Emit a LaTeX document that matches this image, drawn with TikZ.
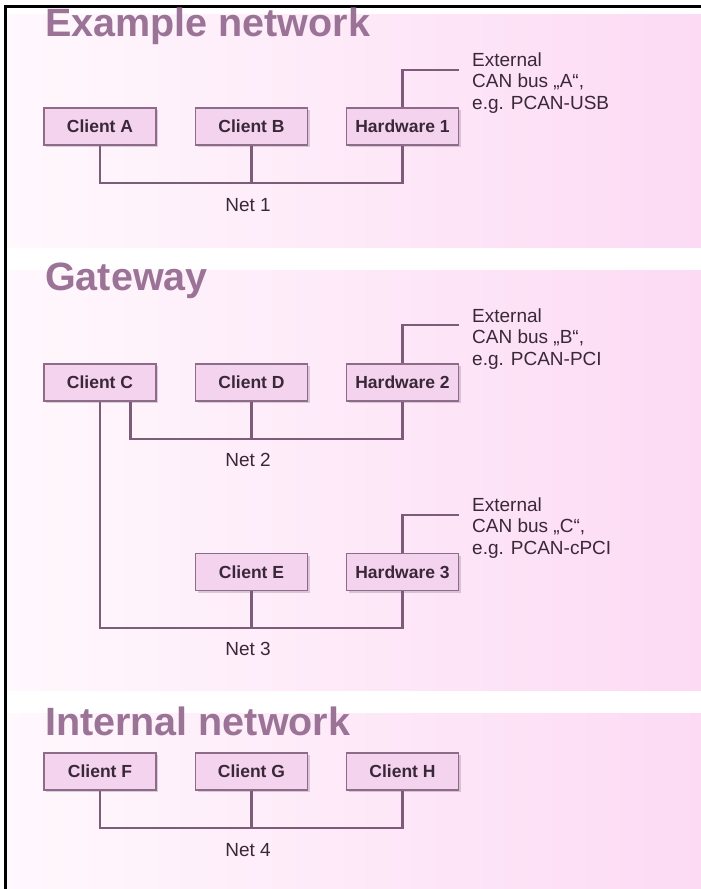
\documentclass[tikz,border=0pt]{standalone}
\usepackage{fontspec}
\setmainfont{Liberation Sans}
\usetikzlibrary{shadows}

\definecolor{mauve}{HTML}{9B7396}
\definecolor{wire}{HTML}{7D5C7A}
\definecolor{boxfill}{HTML}{F3D3EE}
\definecolor{boxline}{HTML}{8C6C88}
\definecolor{ink}{HTML}{3A2838}
\definecolor{panelL}{HTML}{FFF8FD}
\definecolor{panelR}{HTML}{FCDAF4}

\tikzset{
  unit/.style={draw=boxline, fill=boxfill, line width=1.5pt,
    minimum width=112pt, minimum height=37pt, inner sep=0pt,
    font=\bfseries\fontsize{17.5}{20}\selectfont, text=ink,
    drop shadow={shadow xshift=2pt, shadow yshift=-2pt, opacity=0.3, fill=boxline}},
  bus/.style={draw=wire, line width=2.5pt},
  netlabel/.style={font=\fontsize{19}{22}\selectfont, text=ink},
  extlabel/.style={font=\fontsize{19}{21.5}\selectfont, text=ink, align=left, anchor=west, inner sep=0pt},
  title/.style={font=\bfseries\fontsize{39.5}{42}\selectfont, text=mauve, anchor=base west, inner sep=0pt},
  panel/.style={left color=panelL, right color=panelR, draw=none}
}

\begin{document}
\begin{tikzpicture}[x=1pt, y=-1pt]
\useasboundingbox (0,0) rectangle (701,889);
% background bands
\fill[panel] (7,14) rectangle (701,247);
\fill[panel] (7,270) rectangle (701,690);
\fill[panel] (7,713) rectangle (701,889);
\draw[line width=3pt] (5.5,889) -- (5.5,6.5) -- (701,6.5);

% example network
\node[title] (t1) at (45,36) {Example network};
\node[unit] (ca) at (100,126.5) {Client A};
\node[unit] (cb) at (251.5,126.5) {Client B};
\node[unit] (hw1) at (402.5,126.5) {Hardware 1};
\coordinate (n1) at (251.5,183);
\draw[bus] (ca.south) |- (n1) -| (hw1.south);
\draw[bus] (cb.south) -- (n1);
\node[netlabel] (l1) at (248,205) {Net 1};
\coordinate (e1) at (459,70);
\draw[bus] (hw1.north) |- (e1);
\node[extlabel] (x1) at (472,83) {External\\CAN bus „A“,\\e.g. PCAN-USB};

% gateway
\node[title] (t2) at (45,290) {Gateway};
\node[unit] (cc) at (100,382.5) {Client C};
\node[unit] (cd) at (251.5,382.5) {Client D};
\node[unit] (hw2) at (402.5,382.5) {Hardware 2};
\coordinate (n2) at (251.5,439);
\draw[bus] ([xshift=30.5pt]cc.south) |- (n2) -| (hw2.south);
\draw[bus] (cd.south) -- (n2);
\node[netlabel] (l2) at (248,460) {Net 2};
\coordinate (e2) at (459,325);
\draw[bus] (hw2.north) |- (e2);
\node[extlabel] (x2) at (472,339) {External\\CAN bus „B“,\\e.g. PCAN-PCI};

\node[unit] (ce) at (251.5,572) {Client E};
\node[unit] (hw3) at (402.5,572) {Hardware 3};
\coordinate (n3) at (251.5,628);
\draw[bus] (cc.south) |- (n3) -| (hw3.south);
\draw[bus] (ce.south) -- (n3);
\node[netlabel] (l3) at (248,649) {Net 3};
\coordinate (e3) at (459,515);
\draw[bus] (hw3.north) |- (e3);
\node[extlabel] (x3) at (472,528) {External\\CAN bus „C“,\\e.g. PCAN-cPCI};

% internal network
\node[title] (t3) at (45,735) {Internal network};
\node[unit] (cf) at (100,771.5) {Client F};
\node[unit] (cg) at (251.5,771.5) {Client G};
\node[unit] (ch) at (402.5,771.5) {Client H};
\coordinate (n4) at (251.5,828);
\draw[bus] (cf.south) |- (n4) -| (ch.south);
\draw[bus] (cg.south) -- (n4);
\node[netlabel] (l4) at (248,850) {Net 4};
\end{tikzpicture}
\end{document}
